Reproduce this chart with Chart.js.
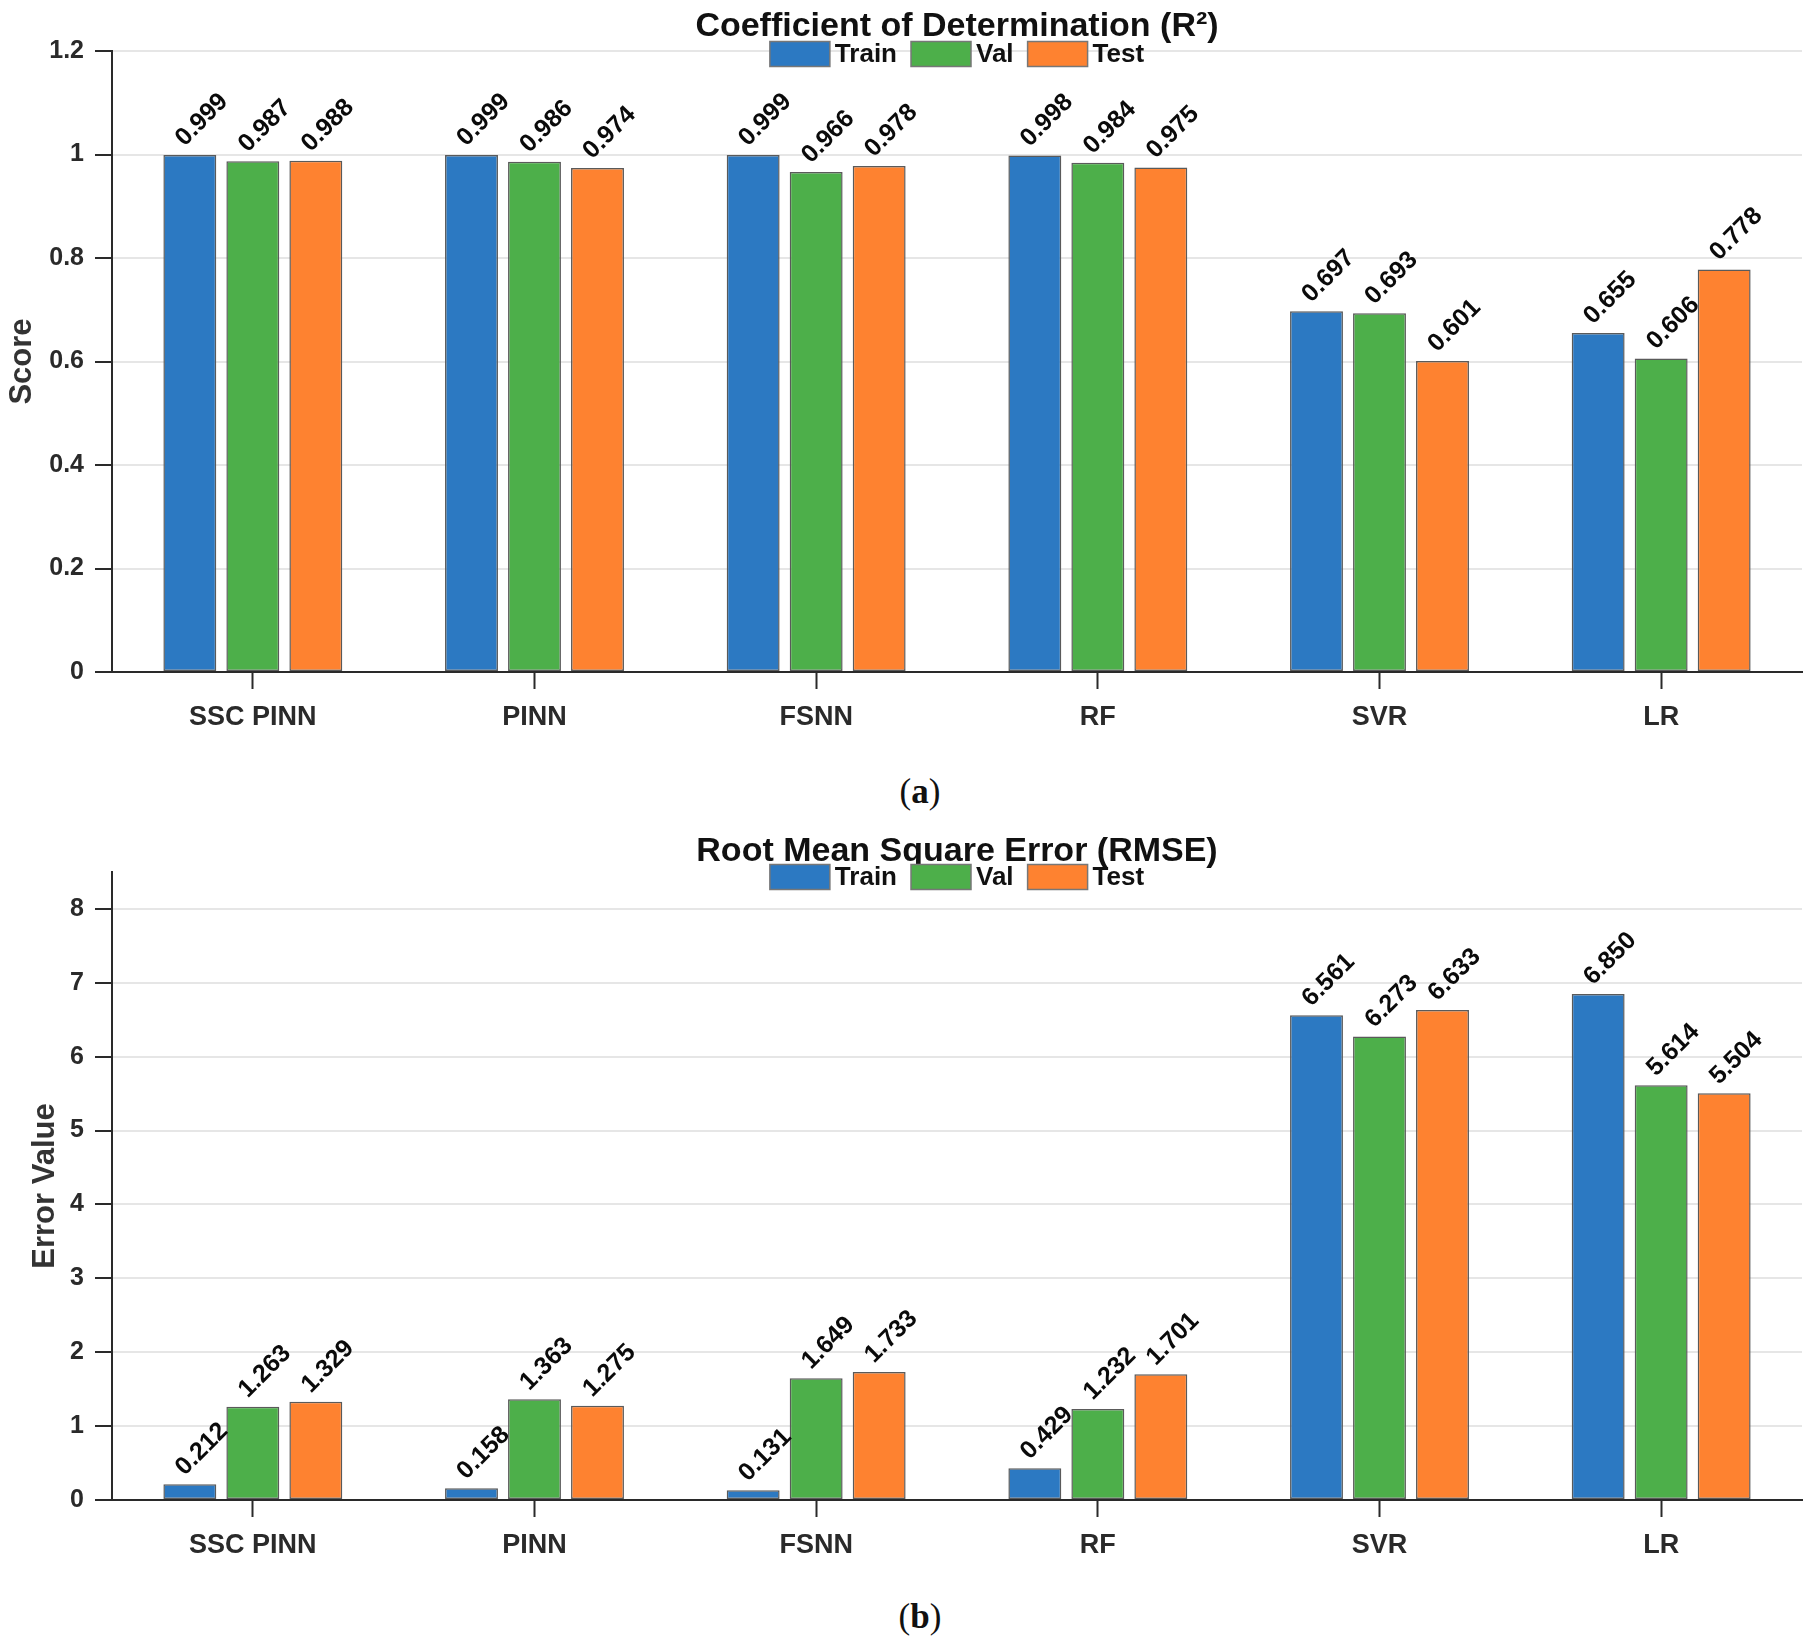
<!DOCTYPE html>
<html>
<head>
<meta charset="utf-8">
<script src="https://cdn.jsdelivr.net/npm/chart.js@4.4.1/dist/chart.umd.min.js"></script>
<style>
  body { margin: 0; background: #fff; width: 1817px; height: 1650px; position: relative; overflow: hidden; }
  .box { position: absolute; left: 0; width: 1817px; }
  .cap { position: absolute; font-family: "Liberation Serif", "DejaVu Serif", serif; font-size: 35px; color: #111; transform: translate(-50%, -50%); }
</style>
</head>
<body>
<div class="box" style="top:0; height:745px;"><canvas id="chartR2"></canvas></div>
<div class="cap" style="left:920px; top:792px;">(<b>a</b>)</div>
<div class="box" style="top:825px; height:748px;"><canvas id="chartRMSE"></canvas></div>
<div class="cap" style="left:920px; top:1617px;">(<b>b</b>)</div>
<script>
// data
const models = ["SSC PINN", "PINN", "FSNN", "RF", "SVR", "LR"];
const seriesNames = ["Train", "Val", "Test"];
const seriesColors = ["#2c79c2", "#4daf4a", "#fe8230"];

const r2Train = [0.999, 0.999, 0.999, 0.998, 0.697, 0.655];
const r2Val = [0.987, 0.986, 0.966, 0.984, 0.693, 0.606];
const r2Test = [0.988, 0.974, 0.978, 0.975, 0.601, 0.778];

const rmseTrain = [0.212, 0.158, 0.131, 0.429, 6.561, 6.850];
const rmseVal = [1.263, 1.363, 1.649, 1.232, 6.273, 5.614];
const rmseTest = [1.329, 1.275, 1.733, 1.701, 6.633, 5.504];

const FONT = "'Liberation Sans', Arial, sans-serif";
const INK = "#2a2a2a";

// value labels, rotated 45deg above each bar
const barLabels = {
  id: "barLabels",
  afterDatasetsDraw(chart) {
    const ctx = chart.ctx;
    ctx.save();
    ctx.font = "bold 25px " + FONT;
    ctx.fillStyle = "#0a0a0a";
    ctx.textAlign = "left";
    ctx.textBaseline = "middle";
    chart.data.datasets.forEach((ds, i) => {
      chart.getDatasetMeta(i).data.forEach((bar, j) => {
        ctx.save();
        ctx.translate(bar.x - 10, bar.y - 13);
        ctx.rotate(-Math.PI / 4);
        ctx.fillText(ds.data[j].toFixed(3), 0, 0);
        ctx.restore();
      });
    });
    ctx.restore();
  },
};

// legend drawn over the top of the plot, centred on the chart area
const topLegend = {
  id: "topLegend",
  afterDraw(chart, args, opts) {
    const ctx = chart.ctx;
    const area = chart.chartArea;
    const boxW = 60, boxH = 25, gapText = 5, gapItem = 14;
    ctx.save();
    ctx.font = "bold 26px " + FONT;
    const items = chart.data.datasets.map((ds) => ({
      label: ds.label,
      color: ds.backgroundColor,
      w: ctx.measureText(ds.label).width,
    }));
    let total = 0;
    items.forEach((it, k) => { total += boxW + gapText + it.w + (k < items.length - 1 ? gapItem : 0); });
    let x = (area.left + area.right) / 2 - total / 2;
    const y = opts.y;
    items.forEach((it) => {
      ctx.fillStyle = it.color;
      ctx.fillRect(x, y - boxH / 2, boxW, boxH);
      ctx.strokeStyle = "#777";
      ctx.lineWidth = 1.5;
      ctx.strokeRect(x, y - boxH / 2, boxW, boxH);
      ctx.fillStyle = "#111";
      ctx.textAlign = "left";
      ctx.textBaseline = "middle";
      ctx.fillText(it.label, x + boxW + gapText, y + 1);
      x += boxW + gapText + it.w + gapItem;
    });
    ctx.restore();
  },
};

function makeDatasets(values) {
  return values.map((v, i) => ({
    label: seriesNames[i],
    data: v,
    backgroundColor: seriesColors[i],
    borderColor: "#5a5a5a",
    borderWidth: 1.5,
    borderSkipped: false,
    categoryPercentage: 0.671,
    barPercentage: 0.84,
  }));
}

function makeConfig(opt) {
  return {
    type: "bar",
    data: { labels: models, datasets: makeDatasets(opt.values) },
    plugins: [barLabels, topLegend],
    options: {
      responsive: true,
      maintainAspectRatio: false,
      animation: false,
      layout: { padding: { left: 0, right: 15, top: 0, bottom: 0 } },
      plugins: {
        legend: { display: false },
        tooltip: { enabled: false },
        topLegend: { y: opt.legendY },
        title: {
          display: true,
          fullSize: false,
          text: opt.title,
          color: "#111",
          font: { size: 34, weight: "bold", family: FONT, lineHeight: 1.2 },
          padding: { top: 6, bottom: opt.titleBottom },
        },
      },
      scales: {
        x: {
          afterFit: (s) => { s.height = 73; },
          grid: {
            offset: false,
            drawOnChartArea: false,
            drawTicks: true,
            tickLength: 17,
            tickColor: INK,
            tickWidth: 2,
          },
          border: { display: true, color: INK, width: 2 },
          ticks: {
            padding: 12,
            color: INK,
            font: { size: 27, weight: "bold", family: FONT },
          },
        },
        y: {
          min: 0,
          max: opt.max,
          afterFit: (s) => { s.width = 112; },
          grid: {
            color: "#e6e6e6",
            lineWidth: 2,
            tickLength: 17,
            tickColor: INK,
            tickWidth: 2,
          },
          border: { display: true, color: INK, width: 2 },
          ticks: {
            stepSize: opt.step,
            includeBounds: false,
            padding: 11,
            color: INK,
            font: { size: 25, weight: "bold", family: FONT },
            callback: (v) => String(Number(v.toFixed(2))),
          },
          title: {
            display: true,
            text: opt.yTitle,
            color: "#333",
            font: { size: 31, weight: "bold", family: FONT, lineHeight: 1.2 },
            padding: { top: opt.yTitlePad, bottom: 0 },
          },
        },
      },
    },
  };
}

new Chart(document.getElementById("chartR2"), makeConfig({
  values: [r2Train, r2Val, r2Test],
  title: "Coefficient of Determination (R²)",
  yTitle: "Score",
  max: 1.2,
  step: 0.2,
  titleBottom: 4.2,
  legendY: 54,
  yTitlePad: 4,
}));

new Chart(document.getElementById("chartRMSE"), makeConfig({
  values: [rmseTrain, rmseVal, rmseTest],
  title: "Root Mean Square Error (RMSE)",
  yTitle: "Error Value",
  max: 8.5,
  step: 1,
  titleBottom: 0.2,
  legendY: 52,
  yTitlePad: 27,
}));
</script>
</body>
</html>
